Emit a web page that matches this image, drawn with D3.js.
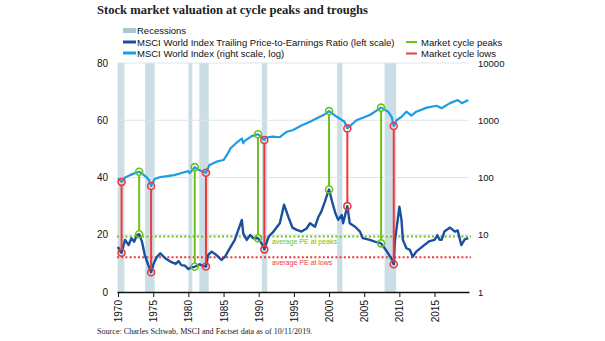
<!DOCTYPE html>
<html><head><meta charset="utf-8">
<script src="https://cdn.jsdelivr.net/npm/d3@7"></script>
<style>body{margin:0;background:#fff}svg{display:block}</style>
</head><body><svg id="c" width="605" height="341"></svg>
<script>
// ---- data ----
const recessions = [[1969.95,1970.9],[1973.85,1975.2],[1980.0,1980.55],[1981.55,1982.9],[1990.45,1991.2],[2001.15,2001.9],[2007.9,2009.55]];
const peDates = [1970.0,1970.2,1970.5,1970.8,1971.0,1971.5,1971.9,1972.3,1972.7,1973.0,1973.4,1973.8,1974.3,1974.7,1975.0,1975.3,1975.6,1976.0,1976.7,1977.6,1978.2,1978.6,1979.0,1979.5,1980.0,1980.3,1980.9,1981.6,1982.0,1982.5,1982.8,1983.3,1984.0,1984.7,1985.2,1985.9,1986.6,1987.1,1987.6,1987.8,1988.3,1988.8,1989.2,1989.9,1990.4,1990.8,1991.4,1992.1,1993.0,1993.6,1994.2,1994.8,1995.4,1996.1,1996.8,1997.3,1998.0,1998.5,1998.9,1999.4,1999.8,2000.0,2000.5,2000.9,2001.3,2001.8,2002.0,2002.6,2002.95,2003.7,2004.4,2004.8,2005.8,2006.5,2007.4,2007.9,2008.4,2008.9,2009.2,2009.35,2009.7,2010.0,2010.3,2010.5,2011.0,2011.5,2011.9,2012.4,2013.4,2014.3,2015.0,2015.4,2015.7,2016.0,2016.4,2017.2,2017.9,2018.3,2018.8,2019.3,2019.8];
const peValues = [15.8,14.5,13.7,16.5,18.2,16.4,18.8,17.6,19.9,20.2,17.6,12.9,9.4,6.9,9.5,11.2,12.5,13.5,11.8,10.4,9.8,10.8,9.4,9.2,8.0,8.5,8.8,9.7,9.2,8.9,12.9,14.1,12.9,11.2,12.3,15.3,18.2,21.7,25.2,20.5,18.2,19.9,18.8,18.8,17.0,14.9,19.3,21.1,24.0,30.5,26.3,22.5,21.7,21.1,22.2,24.0,22.8,26.3,28.1,31.5,34.5,35.8,31.0,27.5,25.2,26.9,24.0,30.0,24.0,22.8,21.1,18.8,18.2,17.6,17.0,15.3,13.5,11.5,9.7,17.6,24.0,29.8,25.2,18.2,15.3,14.7,12.3,14.1,16.1,17.8,18.2,19.8,18.3,18.2,21.1,22.5,21.1,21.5,16.4,18.4,18.8];
const idxDates = [1970.0,1970.5,1971.0,1971.7,1972.3,1973.0,1973.5,1974.0,1974.4,1974.7,1975.2,1976.0,1977.0,1978.0,1979.0,1980.0,1980.2,1980.9,1981.5,1982.5,1983.0,1984.0,1985.0,1985.5,1986.0,1987.0,1987.6,1987.8,1988.0,1989.0,1989.9,1990.8,1991.0,1992.0,1993.0,1994.0,1994.9,1996.0,1997.3,1998.7,1999.3,2000.0,2001.1,2002.2,2002.6,2003.9,2005.8,2007.4,2008.4,2008.9,2009.2,2009.6,2010.3,2011.0,2011.7,2012.4,2013.9,2015.3,2016.0,2017.2,2018.3,2018.9,2019.8];
const idxValues = [97,84,100,110,118,126,115,103,90,71,94,102,106,110,120,129,120,152,135,121,166,189,202,250,324,421,480,396,435,528,569,452,500,516,505,630,676,800,940,1150,1250,1446,1150,940,720,1000,1236,1660,1410,1150,794,1000,1150,1410,1200,1410,1660,1790,1620,1990,2250,1990,2250];
const peakDates = [1973.0,1980.9,1989.9,2000.0,2007.4];
const peakPE = [20.2,8.8,18.8,35.8,17.0];
const peakIdx = [126,152,569,1446,1660];
const lowDates = [1970.5,1974.7,1982.5,1990.8,2002.6,2009.2];
const lowPE = [13.7,6.9,8.9,14.9,30.0,9.7];
const lowIdx = [84,71,121,452,720,794];
const avgPeakPE = 19.4;
const avgLowPE = 12.1;
const leftTicks = [0,20,40,60,80];
const rightTicks = [1,10,100,1000,10000];
const yearTicks = [1970,1975,1980,1985,1990,1995,2000,2005,2010,2015];

// ---- styles ----
const C = {pe:"#1b4f9f", idx:"#1d9be6", peak:"#6cc21c", low:"#f03a3a", rec:"#c6dae2", grid:"#dfe5e8"};
const sans = "'Liberation Sans', Arial, sans-serif";
const serif = "'Liberation Serif', 'DejaVu Serif', serif";

const svg = d3.select("#c");
const x = d3.scaleLinear().domain([1969.85, 2019.9]).range([117, 469]);
const yL = d3.scaleLinear().domain([0,80]).range([292,63]);
const yR = d3.scaleLog().domain([1,10000]).range([292,63]);

// title
svg.append("text").attr("x",97).attr("y",14).attr("font-family",serif).attr("font-weight","bold")
  .attr("font-size",12.6).attr("fill","#222").text("Stock market valuation at cycle peaks and troughs");

// recessions
svg.append("g").selectAll("rect").data(recessions).join("rect")
  .attr("x",d=>x(d[0])).attr("width",d=>x(d[1])-x(d[0]))
  .attr("y",yL(80)).attr("height",yL(0)-yL(80)).attr("fill",C.rec).attr("opacity",0.9);

// gridlines
svg.append("g").selectAll("line").data(leftTicks.filter(d=>d>0)).join("line")
  .attr("x1",x.range()[0]).attr("x2",x.range()[1]).attr("y1",d=>yL(d)).attr("y2",d=>yL(d))
  .attr("stroke",C.grid).attr("stroke-width",1);

// left axis labels
svg.append("g").selectAll("text").data(leftTicks).join("text")
  .attr("x",108).attr("y",d=>yL(d)+3.5).attr("text-anchor","end")
  .attr("font-family",sans).attr("font-size",10).attr("fill","#111").text(d=>d);
// right axis labels
svg.append("g").selectAll("text").data(rightTicks).join("text")
  .attr("x",478).attr("y",d=>yR(d)+3.5).attr("text-anchor","start")
  .attr("font-family",sans).attr("font-size",9.5).attr("fill","#111").text(d=>d);

// x axis
const xAxis = svg.append("g").attr("transform",`translate(0,${yL(0)})`)
  .call(d3.axisBottom(x).tickValues(yearTicks).tickSize(5).tickSizeOuter(0).tickFormat(d3.format("d")));
xAxis.select(".domain").attr("stroke","#111").attr("stroke-width",1.5);
xAxis.selectAll(".tick line").attr("stroke","#111");
xAxis.selectAll(".tick text").attr("font-family",sans).attr("font-size",10).attr("fill","#111")
  .attr("transform","rotate(-90)").attr("text-anchor","end").attr("x",-8).attr("y",0).attr("dy","0.35em");

// average lines
[[avgPeakPE,C.peak,"average PE at peaks"],[avgLowPE,C.low,"average PE at lows"]].forEach(([v,col,lab])=>{
  svg.append("line").attr("x1",x.range()[0]).attr("x2",x.range()[1]+2).attr("y1",yL(v)).attr("y2",yL(v))
    .attr("stroke",col).attr("stroke-width",2).attr("stroke-dasharray","2,2.2");
  svg.append("text").attr("x",272).attr("y",yL(v)+8).attr("font-family",sans).attr("font-size",7)
    .attr("fill",col).text(lab);
});

// lines
const line = (ys)=>d3.line().x(d=>x(d[0])).y(d=>ys(d[1]));
svg.append("path").datum(idxDates.map((d,i)=>[d,idxValues[i]])).attr("d",line(yR))
  .attr("fill","none").attr("stroke",C.idx).attr("stroke-width",2.2).attr("stroke-linejoin","round");
svg.append("path").datum(peDates.map((d,i)=>[d,peValues[i]])).attr("d",line(yL))
  .attr("fill","none").attr("stroke",C.pe).attr("stroke-width",2.4).attr("stroke-linejoin","round");

// connectors and circles
function markers(dates,pes,idxs,col){
  const g = svg.append("g");
  const data = dates.map((d,i)=>({d,pe:pes[i],ix:idxs[i]}));
  g.selectAll("line").data(data).join("line")
    .attr("x1",p=>x(p.d)).attr("x2",p=>x(p.d)).attr("y1",p=>yR(p.ix)+3.5).attr("y2",p=>yL(p.pe)-3.5)
    .attr("stroke",col).attr("stroke-width",2);
  g.selectAll("circle.a").data(data).join("circle").attr("class","a")
    .attr("cx",p=>x(p.d)).attr("cy",p=>yR(p.ix)).attr("r",3.5).attr("fill","none").attr("stroke",col).attr("stroke-width",1.6);
  g.selectAll("circle.b").data(data).join("circle").attr("class","b")
    .attr("cx",p=>x(p.d)).attr("cy",p=>yL(p.pe)).attr("r",3.5).attr("fill","none").attr("stroke",col).attr("stroke-width",1.6);
}
markers(peakDates,peakPE,peakIdx,C.peak);
markers(lowDates,lowPE,lowIdx,C.low);

// legend
const lg = svg.append("g").attr("font-family",sans).attr("font-size",9.5).attr("fill","#111");
lg.append("rect").attr("x",123).attr("y",28).attr("width",13).attr("height",5).attr("fill","#a9c6d3");
lg.append("text").attr("x",137).attr("y",34).text("Recessions");
[[42,C.pe,"MSCI World Index Trailing Price-to-Earnings Ratio (left scale)"],[53,C.idx,"MSCI World Index (right scale, log)"]].forEach(([yy,col,t])=>{
  lg.append("line").attr("x1",123).attr("x2",136).attr("y1",yy).attr("y2",yy).attr("stroke",col).attr("stroke-width",3);
  lg.append("text").attr("x",137).attr("y",yy+3.5).text(t);
});
[[42,C.peak,"Market cycle peaks"],[53.5,C.low,"Market cycle lows"]].forEach(([yy,col,t])=>{
  lg.append("line").attr("x1",406).attr("x2",417).attr("y1",yy).attr("y2",yy).attr("stroke",col).attr("stroke-width",2);
  lg.append("text").attr("x",421).attr("y",yy+3.5).text(t);
});

// source
svg.append("text").attr("x",97).attr("y",334).attr("font-family",serif).attr("font-size",8.1)
  .attr("fill","#222").text("Source: Charles Schwab, MSCI and Factset data as of 10/11/2019.");
</script></body></html>
